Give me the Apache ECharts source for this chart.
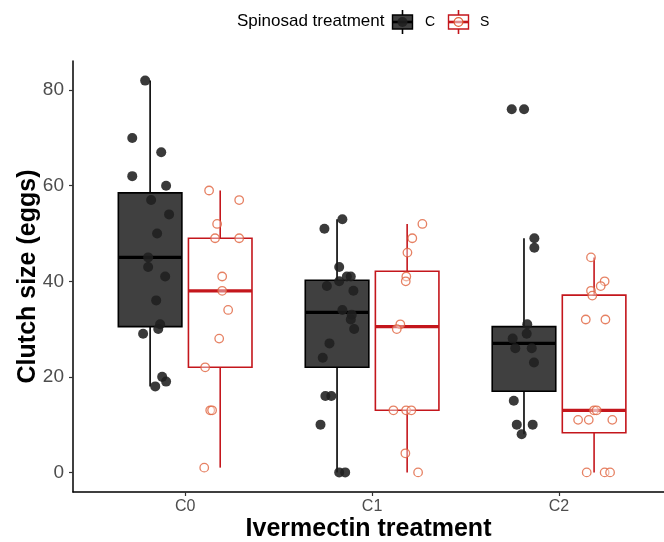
<!DOCTYPE html>
<html>
<head>
<meta charset="utf-8">
<script src="https://cdn.jsdelivr.net/npm/echarts@6/dist/echarts.min.js"></script>
<style>
  html, body { margin: 0; padding: 0; background: #fff; }
  #main { width: 664px; height: 542px; }
</style>
</head>
<body>
<div id="main"></div>
<script>
// ivermectin groups on the x axis
var categories = ['C0', 'C1', 'C2'];
var yTicks = [0, 20, 40, 60, 80];

// box stats per group: [lower whisker, Q1, median, Q3, upper whisker]
var boxC = [
  [18, 30.5, 45, 58.5, 82],
  [0, 22, 33.5, 40.2, 53],
  [8, 17, 27, 30.5, 49]
];
var boxS = [
  [1, 22, 38, 49, 59],
  [0, 13, 30.5, 42.1, 52],
  [0, 8.3, 13, 37.1, 45]
];

// jittered points, [x, clutch size]
var pointsC = [
  [0.786, 82], [0.717, 70], [0.872, 67], [0.717, 62], [0.898, 60], [0.818, 57],
  [0.914, 54], [0.850, 50], [0.802, 45], [0.802, 43], [0.893, 41], [0.845, 36],
  [0.866, 31], [0.856, 30], [0.775, 29], [0.877, 20], [0.898, 19], [0.840, 18],
  [1.841, 53], [1.745, 51], [1.824, 43], [1.865, 41], [1.886, 41], [1.758, 39],
  [1.824, 40], [1.900, 38], [1.841, 34], [1.891, 33], [1.886, 32], [1.904, 30],
  [1.772, 27], [1.736, 24], [1.750, 16], [1.782, 16], [1.724, 10], [1.824, 0],
  [1.856, 0],
  [2.747, 76], [2.813, 76], [2.868, 49], [2.868, 47], [2.830, 31], [2.827, 29],
  [2.752, 28], [2.766, 26], [2.854, 26], [2.866, 23], [2.758, 15], [2.774, 10],
  [2.859, 10], [2.800, 8]
];
var pointsS = [
  [1.128, 59], [1.289, 57], [1.171, 52], [1.160, 49], [1.289, 49], [1.198, 41],
  [1.198, 38], [1.230, 34], [1.182, 28], [1.107, 22], [1.134, 13], [1.144, 13],
  [1.102, 1],
  [2.269, 52], [2.215, 49], [2.189, 46], [2.183, 41], [2.180, 40], [2.151, 31],
  [2.132, 30], [2.114, 13], [2.182, 13], [2.210, 13], [2.178, 4], [2.246, 0],
  [3.171, 45], [3.244, 40], [3.223, 39], [3.171, 38], [3.178, 37], [3.143, 32],
  [3.248, 32], [3.187, 13], [3.201, 13], [3.102, 11], [3.159, 11], [3.285, 11],
  [3.148, 0], [3.244, 0], [3.273, 0]
];

var FONT = 'Liberation Sans, Arial, sans-serif';
var DODGE = 0.1875;
var BOX_W = 0.34;

function boxData(stats, shift) {
  return stats.map(function (s, i) {
    return [i + 1 + shift].concat(s);
  });
}

function makeBoxRender(fill, stroke) {
  return function (params, api) {
    var x = api.value(0);
    var low = api.coord([x, api.value(1)]);
    var q1 = api.coord([x, api.value(2)]);
    var med = api.coord([x, api.value(3)]);
    var q3 = api.coord([x, api.value(4)]);
    var high = api.coord([x, api.value(5)]);
    var w = api.size([BOX_W, 0])[0];
    var left = q3[0] - w / 2;
    return {
      type: 'group',
      children: [
        { type: 'line', shape: { x1: high[0], y1: high[1], x2: q3[0], y2: q3[1] },
          style: { stroke: stroke, lineWidth: 1.6 } },
        { type: 'line', shape: { x1: q1[0], y1: q1[1], x2: low[0], y2: low[1] },
          style: { stroke: stroke, lineWidth: 1.6 } },
        { type: 'rect', shape: { x: left, y: q3[1], width: w, height: q1[1] - q3[1] },
          style: { fill: fill, stroke: stroke, lineWidth: 1.6 } },
        { type: 'line', shape: { x1: left, y1: med[1], x2: left + w, y2: med[1] },
          style: { stroke: stroke, lineWidth: 3.2 } }
      ]
    };
  };
}

var chart = echarts.init(document.getElementById('main'), null, { renderer: 'canvas' });

chart.setOption({
  animation: false,
  backgroundColor: '#fff',
  grid: { left: 73, right: 0, top: 61, bottom: 50, outerBoundsMode: 'none', containLabel: false },
  xAxis: {
    type: 'value',
    min: 0.4,
    max: 3.5615,
    splitLine: { show: false },
    axisLine: { onZero: false, lineStyle: { color: '#000', width: 1.5 } },
    axisTick: { show: true, length: 4, customValues: [1, 2, 3], lineStyle: { color: '#333', width: 1.2 } },
    axisLabel: {
      customValues: [1, 2, 3],
      formatter: function (v) { return categories[Math.round(v) - 1]; },
      color: '#4d4d4d', fontSize: 16, fontFamily: FONT, margin: 7
    },
    name: 'Ivermectin treatment',
    nameLocation: 'middle',
    nameGap: 25,
    nameMoveOverlap: false,
    nameTextStyle: { color: '#000', fontSize: 25, fontWeight: 'bold', fontFamily: FONT }
  },
  yAxis: {
    type: 'value',
    min: -4.1,
    max: 86.1,
    splitLine: { show: false },
    axisLine: { show: true, lineStyle: { color: '#000', width: 1.5 } },
    axisTick: { show: true, length: 4, customValues: yTicks, lineStyle: { color: '#333', width: 1.2 } },
    axisLabel: {
      customValues: yTicks,
      color: '#4d4d4d', fontSize: 19, fontFamily: FONT, margin: 9
    },
    name: 'Clutch size (eggs)',
    nameLocation: 'middle',
    nameGap: 32,
    nameMoveOverlap: false,
    nameTextStyle: { color: '#000', fontSize: 25, fontWeight: 'bold', fontFamily: FONT }
  },
  series: [
    {
      type: 'custom',
      name: 'C',
      renderItem: makeBoxRender('#404040', '#000'),
      encode: { x: 0, y: [1, 2, 3, 4, 5] },
      data: boxData(boxC, -DODGE),
      z: 2
    },
    {
      type: 'custom',
      name: 'S',
      renderItem: makeBoxRender('#fff', '#c4161c'),
      encode: { x: 0, y: [1, 2, 3, 4, 5] },
      data: boxData(boxS, DODGE),
      z: 2
    },
    {
      type: 'scatter',
      name: 'C',
      data: pointsC,
      symbolSize: 10,
      itemStyle: { color: '#1f1f1f', opacity: 0.88 },
      z: 3
    },
    {
      type: 'scatter',
      name: 'S',
      data: pointsS,
      symbolSize: 8.5,
      itemStyle: { color: 'rgba(255,255,255,0.5)', borderColor: '#e0623c', borderWidth: 1.3 },
      z: 3
    }
  ],
  graphic: [
    { type: 'text', left: 237, top: 13,
      style: { text: 'Spinosad treatment', fontSize: 17, fontFamily: FONT, fill: '#000' } },
    // key C
    { type: 'line', shape: { x1: 402.5, y1: 10, x2: 402.5, y2: 34 }, style: { stroke: '#000', lineWidth: 1.6 } },
    { type: 'rect', shape: { x: 392.5, y: 15, width: 20, height: 14 },
      style: { fill: '#404040', stroke: '#000', lineWidth: 1.4 } },
    { type: 'line', shape: { x1: 392.5, y1: 22, x2: 412.5, y2: 22 }, style: { stroke: '#000', lineWidth: 2.6 } },
    { type: 'circle', shape: { cx: 402.5, cy: 22, r: 5 }, style: { fill: '#1f1f1f', opacity: 0.88 } },
    { type: 'text', left: 425, top: 15,
      style: { text: 'C', fontSize: 14, fontFamily: FONT, fill: '#000' } },
    // key S
    { type: 'line', shape: { x1: 458.5, y1: 10, x2: 458.5, y2: 34 }, style: { stroke: '#c4161c', lineWidth: 1.6 } },
    { type: 'rect', shape: { x: 448.5, y: 15, width: 20, height: 14 },
      style: { fill: '#fff', stroke: '#c4161c', lineWidth: 1.4 } },
    { type: 'line', shape: { x1: 448.5, y1: 22, x2: 468.5, y2: 22 }, style: { stroke: '#c4161c', lineWidth: 2.6 } },
    { type: 'circle', shape: { cx: 458.5, cy: 22, r: 4.3 },
      style: { fill: 'rgba(255,255,255,0.5)', stroke: '#e0623c', lineWidth: 1.3 } },
    { type: 'text', left: 480, top: 15,
      style: { text: 'S', fontSize: 14, fontFamily: FONT, fill: '#000' } }
  ]
});
</script>
</body>
</html>
